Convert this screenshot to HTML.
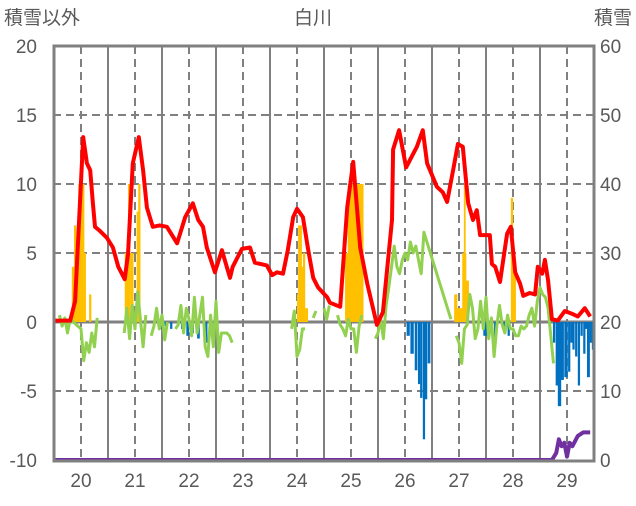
<!DOCTYPE html>
<html><head><meta charset="utf-8"><style>
body{margin:0;background:#fff;}
svg text{font-family:"Liberation Sans","Noto Sans CJK JP",sans-serif;fill:#595959;}
</style></head><body>
<svg id="chart" width="636" height="501" viewBox="0 0 636 501" xmlns="http://www.w3.org/2000/svg">
<g id="grid"></g>
<g id="bars"></g>
<g id="lines"></g>
<g id="frame"></g>
<g id="labels"></g>
</svg>
<script>
const dayLabels=[20,21,22,23,24,25,26,27,28,29];
const leftTicks=[20,15,10,5,0,-5,-10];
const rightTicks=[60,50,40,30,20,10,0];
const redT=[19.48,19.80,19.89,20.04,20.11,20.17,20.22,20.26,20.35,20.48,20.59,20.69,20.81,20.87,20.96,21.07,21.15,21.22,21.33,21.46,21.59,21.78,21.93,22.07,22.17,22.26,22.33,22.48,22.61,22.76,22.81,22.98,23.13,23.22,23.44,23.54,23.63,23.74,23.83,23.93,24.00,24.11,24.20,24.30,24.39,24.56,24.61,24.80,24.93,25.04,25.17,25.30,25.48,25.59,25.76,25.78,25.89,26.02,26.22,26.33,26.41,26.59,26.70,26.78,26.89,26.98,27.07,27.17,27.26,27.33,27.39,27.52,27.57,27.61,27.67,27.76,27.89,27.96,28.04,28.13,28.19,28.31,28.41,28.46,28.54,28.59,28.65,28.72,28.83,28.96,29.09,29.20,29.33,29.43];
const redV=[0.1,0.1,1.5,13.4,11.5,11,8.6,6.9,6.6,6.1,5.4,4,3.1,4.9,11.5,13.4,11,8.3,6.9,7,6.9,5.7,7.6,8.6,7.4,6.9,5.4,3.6,5.2,3.2,4,5.3,5.4,4.3,4.1,3.4,3.6,3.5,5.2,7.6,8.2,7.6,5.4,3.2,2.5,1.8,1.4,1.1,8.3,11.6,5.4,2.8,-0.2,0.7,7.4,12.5,13.9,11.2,12.7,13.9,11.5,9.8,9.4,8.7,11,12.9,12.7,8.6,7.4,8.1,6.3,6.3,6.3,4.2,4.0,2.9,6.4,6.9,3.6,2.8,1.9,2.1,2.0,4,3.5,4.5,3.0,0.2,0.1,0.8,0.6,0.4,1.0,0.4];
// green series (null = gap)
const greenT=[19.6,19.65,19.7,19.75,19.8,20.0,20.05,20.1,20.15,20.2,20.25,20.3, 20.75,20.8,20.85,20.9,20.95,21.0,21.05,21.1,21.15,21.2, 21.25,21.3,21.35,21.4,21.45,21.5,21.55,21.6,21.7,21.75,21.8,21.85,21.9,21.95,22.0,22.05,22.1,22.15,22.2,22.25,22.3,22.35,22.4,22.45,22.5,22.55,22.6,22.7,22.75,22.8, 23.45, 23.8,23.85,23.9,23.95,24.0,24.05,24.1,24.15,24.2,24.3,24.35,24.4,24.5,24.55,24.6,24.7,24.75,24.8,24.85,24.9,24.95,25.0,25.05,25.1,25.15,25.2, 25.4,25.45,25.5,25.55,25.6,25.65,25.7,25.75,25.8,25.85,25.9,25.95,26.0,26.05,26.1,26.15,26.2,26.25,26.3,26.35, 26.85,26.9,26.95,27.0,27.05,27.1,27.15,27.2,27.25,27.3,27.35,27.4,27.45,27.5,27.55,27.6,27.65,27.7,27.75,27.8,27.85,27.9,27.95,28.0,28.05,28.1,28.15,28.2,28.25,28.3,28.35,28.4,28.45,28.5,28.55,28.6,28.65,28.7,28.75];
const greenV=[0.5,-0.3,0.3,-0.8,0.2,-0.5,-2.8,-1.5,-2.2,-0.8,-1.8,0.3, null,-0.8,1.0,-1.2,1.2,-0.5,2.2,0.2,-1.8,0.5, null,-1.0,-0.3,1.0,-0.5,0.5,-1.3,0.0, null,-0.5,-0.2,1.2,-0.8,1.0,0.2,-1.0,1.8,-0.8,0.5,1.8,-1.8,-2.5,0.5,-1.8,1.5,-2.2,-0.8,-0.8,-1.0,-1.5, null, 0.3,null,-0.5,0.8,-2.5,-2.0,-0.5,-0.5,null,0.3,0.8,null,1.0,0.2,1.2,null,0.5,-0.2,-0.5,-1.0,0.2,-0.5,-0.5,-2.2,-0.3,0.5, null,-1.2,-0.8,0.2,-1.2,1.2,2.5,4.0,5.5,4.0,3.5,4.5,5.0,4.5,5.8,5.0,5.5,4.5,3.5,6.5,0.2, null,-1.0,-1.5,-3.0,-0.5,-0.2,2.0,1.0,-1.2,-0.5,1.5,-0.5,1.8,-1.2,0.3,-2.5,-0.3,1.2,-0.2,-0.8,0.5,-0.5,-0.5,-1.0,-1.0,-0.3,-0.5,-0.3,0.5,1.0,-0.3,1.5,2.5,2.0,1.8,1.0,-1.0,-3.0];
const purpleT=[19.48,28.72,28.8,28.85,28.9,28.95,29.0,29.05,29.1,29.2,29.3,29.43];
const purpleV=[0,0,1,3,2,2.5,0.5,2.5,2,3.5,4,4];
// bar data: start time (day), duration (hours), value
const orangeStart=[19.83,19.87,19.9,19.95,20.05,20.15,20.81,20.87,20.91,21.03,21.06,24.02,24.0,24.08,24.11,24.15,24.89,24.94,25.15,26.91,26.96,27.06,27.09,27.13,27.96,28.0];
const orangeHours=[1,1,1.4,2.7,1,1,1.5,1,1.5,1,1,1.7,0.5,1,1,1.3,1.4,7,1,1.4,2.7,1.8,0.8,1.3,1,1.3];
const orangeVal=[4,7,5,10,5,2,5,10,5,8,10,7,2,4,5,1,5,10,4,2,1,5,10,3,9,4];
const blueStart=[21.45,21.55,21.65,21.85,21.95,22.05,22.15,22.3,22.45,26.03,26.1,26.18,26.24,26.28,26.33,26.37,26.42,27.45,27.55,27.65,27.8,27.9,28.74,28.79,28.83,28.88,28.95,29.02,29.06,29.1,29.15,29.2,29.25,29.3,29.33,29.37,29.42,29.46];
const blueHours=[1,1,1,1,1.2,1,1.2,1,1,1.4,1.5,1.2,1,1,1,1,1.2,2,2,1,1.2,1,1,1.3,1.5,1.5,1.5,1,1,1,1,1,1,1,1,1.3,1,1];
const blueVal=[-0.5,-0.3,-0.5,-0.5,-1.0,-0.8,-1.2,-1.5,-0.5,-1.0,-2.3,-3.5,-4.5,-5.5,-8.5,-5.6,-3.0,-1.0,-0.8,-1.5,-0.5,-1.0,-1.5,-4.6,-6.1,-4.2,-4.0,-3.6,-1.5,-2.0,-2.5,-4.6,-1.0,-2.3,-0.5,-4.0,-1.5,-2.0];

const NS='http://www.w3.org/2000/svg';
const X0=53,X1=593,Y0=46,Y1=460;
function x(t){return 81+(t-20)*54;}
function yL(v){return Y1-(v+10)/30*(Y1-Y0);}
function yR(v){return Y1-v/60*(Y1-Y0);}
function mk(tag,attrs,parent){const e=document.createElementNS(NS,tag);for(const k in attrs)e.setAttribute(k,attrs[k]);parent.appendChild(e);return e;}
const grid=document.getElementById('grid'),bars=document.getElementById('bars'),lines=document.getElementById('lines'),frame=document.getElementById('frame'),labels=document.getElementById('labels');

leftTicks.forEach(v=>{
  if(v===20||v===-10||v===0)return;
  const l=mk('line',{x1:X0,x2:X1,y1:yL(v),y2:yL(v),stroke:'#808080','stroke-width':2,'stroke-dasharray':'8,5'},grid);
  
  
});
dayLabels.forEach(d=>{
  const l=mk('line',{x1:x(d),x2:x(d),y1:Y0,y2:Y1,stroke:'#808080','stroke-width':2,'stroke-dasharray':'8,5'},grid);
  
  
  if(d<29){
    const s=mk('line',{x1:x(d+0.5),x2:x(d+0.5),y1:Y0,y2:Y1,stroke:'#808080','stroke-width':2},grid);
    
    
  }
});
const z=mk('line',{x1:X0,x2:X1,y1:yL(0),y2:yL(0),stroke:'#808080','stroke-width':3},grid);



function drawBars(st,hr,vals,color,name){
  st.forEach((s,i)=>{
    const v=vals[i];const a=yL(0),b=yL(v);
    const r=mk('rect',{x:x(s),y:Math.min(a,b),width:hr[i]*54/24,height:Math.abs(a-b),fill:color},bars);
    
    
  });
}
drawBars(orangeStart,orangeHours,orangeVal,'#FFC000','snowfall-bar');
drawBars(blueStart,blueHours,blueVal,'#0070C0','melt-bar');

function path(ts,vs,yf){let d='',pen=false;ts.forEach((t,i)=>{const v=vs[i];if(v===null){pen=false;return;}d+=(pen?'L':'M')+x(t).toFixed(1)+','+yf(v).toFixed(1);pen=true;});return d;}
const g=mk('path',{d:path(greenT,greenV,yL),fill:'none',stroke:'#92D050','stroke-width':3,'stroke-linejoin':'round'},lines);


const r=mk('path',{d:path(redT,redV,yL),fill:'none',stroke:'#FF0000','stroke-width':4,'stroke-linejoin':'round'},lines);


const p=mk('path',{d:path(purpleT,purpleV,yR),fill:'none',stroke:'#7030A0','stroke-width':4,'stroke-linejoin':'round'},lines);



const fr=mk('rect',{x:X0+1,y:Y0,width:X1-X0,height:Y1-Y0+1,fill:'none',stroke:'#808080','stroke-width':3},frame);



function txt(s,xx,yy,anchor,size,name){const t=mk('text',{x:xx,y:yy,'text-anchor':anchor,'font-size':size},labels);t.textContent=s;return t;}
leftTicks.forEach(v=>txt(String(v),37,yL(v)+7,'end',19,'left-tick-label'));
rightTicks.forEach(v=>txt(String(v),600,yR(v)+7,'start',19,'right-tick-label'));
dayLabels.forEach(d=>txt(String(d),x(d),487,'middle',19,'x-tick-label'));
txt('白川',313,24,'middle',19,'chart-title');
txt('積雪以外',4,24,'start',19,'left-axis-title');
txt('積雪',632,24,'end',19,'right-axis-title');
</script>
</body></html>
